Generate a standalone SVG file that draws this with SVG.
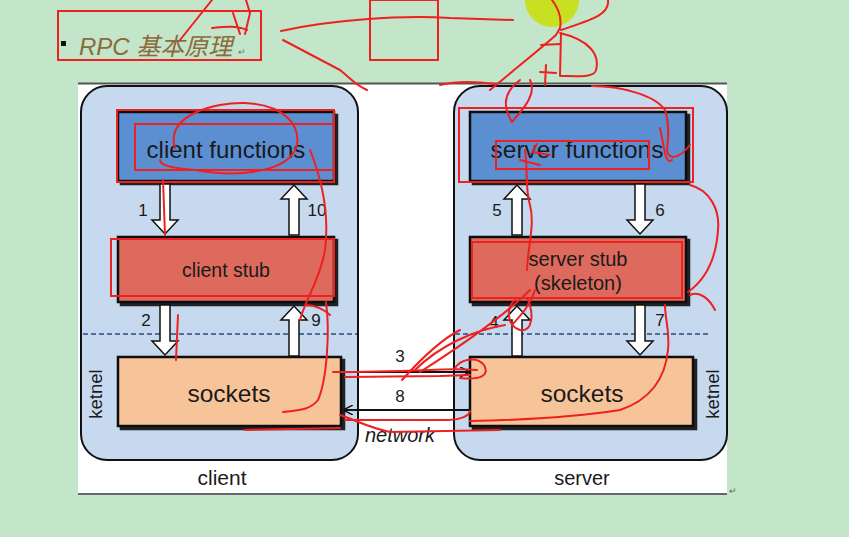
<svg xmlns="http://www.w3.org/2000/svg" width="849" height="537" viewBox="0 0 849 537">
<defs>
<style>
.t{font-family:"Liberation Sans",Arial,sans-serif;fill:#1a1a1a}
.box{stroke:#111;stroke-width:2.5}
.ar{fill:#fff;stroke:#111;stroke-width:1.5}
.red{fill:none;stroke:#ee2020;stroke-width:2;stroke-linecap:round;stroke-linejoin:round}
.redr{fill:none;stroke:#ee2020;stroke-width:2}
</style>
<filter id="sh" x="-5%" y="-5%" width="115%" height="120%"><feDropShadow dx="3" dy="3" stdDeviation="0.5" flood-color="#111" flood-opacity="0.9"/></filter>
<marker id="ah" markerWidth="10" markerHeight="10" refX="9" refY="5" orient="auto" markerUnits="userSpaceOnUse"><path d="M0,0 L10,5 L0,10" fill="none" stroke="#111" stroke-width="1.5"/></marker>
</defs>
<rect width="849" height="537" fill="#c3e5c9"/>
<circle cx="552" cy="0" r="27" fill="#c8e022"/>
<rect x="78" y="83" width="649" height="411" fill="#fff"/>
<line x1="78" y1="83.5" x2="727" y2="83.5" stroke="#555" stroke-width="2"/>
<line x1="78" y1="494" x2="727" y2="494" stroke="#666" stroke-width="2"/>
<text x="729" y="494" font-family="Liberation Sans,sans-serif" font-size="9" fill="#666">↵</text>

<g id="title">
<rect x="61" y="41" width="5" height="5" fill="#111"/>
<text x="79" y="55" font-family="Liberation Sans,'Noto Sans CJK SC',sans-serif" font-size="24" font-style="italic" fill="#8b6a3c">RPC 基本原理</text>
<text x="238" y="55" font-family="Liberation Sans,sans-serif" font-size="9" fill="#777">↵</text>
</g>

<g id="client">
<rect x="81" y="86" width="277" height="374" rx="26" fill="#c6d9ee" stroke="#111" stroke-width="2"/>
<text x="222" y="485" class="t" font-size="21" text-anchor="middle">client</text>
<text transform="translate(102,394) rotate(-90)" class="t" font-size="18.5" text-anchor="middle">ketnel</text>
</g>
<g id="server">
<rect x="454" y="86" width="273" height="374" rx="26" fill="#c6d9ee" stroke="#111" stroke-width="2"/>
<text x="582" y="485" class="t" font-size="20" text-anchor="middle">server</text>
<text transform="translate(719,394) rotate(-90)" class="t" font-size="18.5" text-anchor="middle">ketnel</text>
</g>
<g id="kernel-lines">
<line x1="83" y1="334" x2="357" y2="334" stroke="#2a4a7a" stroke-width="1.5" stroke-dasharray="5,3"/>
<line x1="455" y1="334" x2="708" y2="334" stroke="#2a4a7a" stroke-width="1.5" stroke-dasharray="5,3"/>
</g>

<g id="client-functions">
<rect x="118" y="112" width="216" height="69" fill="#5b8fd2" class="box" filter="url(#sh)"/>
<text x="226" y="158" class="t" font-size="24" text-anchor="middle">client functions</text>
</g>
<g id="client-stub">
<rect x="118" y="237" width="216" height="65" fill="#dd6b5b" class="box" filter="url(#sh)"/>
<text x="226" y="277" class="t" font-size="19.5" text-anchor="middle">client stub</text>
</g>
<g id="client-sockets">
<rect x="118" y="357" width="223" height="69" fill="#f7c49a" class="box" filter="url(#sh)"/>
<text x="229" y="402" class="t" font-size="24.5" text-anchor="middle">sockets</text>
</g>
<g id="server-functions">
<rect x="470" y="112" width="216" height="69" fill="#5b8fd2" class="box" filter="url(#sh)"/>
<text x="577" y="158" class="t" font-size="24.5" text-anchor="middle">server functions</text>
</g>
<g id="server-stub">
<rect x="470" y="237" width="216" height="65" fill="#dd6b5b" class="box" filter="url(#sh)"/>
<text x="578" y="266" class="t" font-size="20" text-anchor="middle">server stub</text>
<text x="578" y="290" class="t" font-size="20" text-anchor="middle">(skeleton)</text>
</g>
<g id="server-sockets">
<rect x="470" y="357" width="223" height="69" fill="#f7c49a" class="box" filter="url(#sh)"/>
<text x="582" y="402" class="t" font-size="24.5" text-anchor="middle">sockets</text>
</g>

<g id="connectors">
<path class="ar" d="M160,184 H170 V220 H178 L165,234 L152,220 H160 Z"/>
<path class="ar" d="M160,305 H170 V341 H178 L165,355 L152,341 H160 Z"/>
<path class="ar" d="M289,235 H299 V199 H307 L294,185 L281,199 H289 Z"/>
<path class="ar" d="M289,356 H299 V320 H307 L294,306 L281,320 H289 Z"/>
<path class="ar" d="M512,235 H522 V199 H530 L517,185 L504,199 H512 Z"/>
<path class="ar" d="M512,356 H522 V320 H530 L517,306 L504,320 H512 Z"/>
<path class="ar" d="M635,184 H645 V220 H653 L640,234 L627,220 H635 Z"/>
<path class="ar" d="M635,305 H645 V341 H653 L640,355 L627,341 H635 Z"/>
<line x1="343" y1="372" x2="469" y2="372" stroke="#111" stroke-width="2" marker-end="url(#ah)"/>
<line x1="469" y1="410" x2="344" y2="410" stroke="#111" stroke-width="2" marker-end="url(#ah)"/>
<text x="143" y="216" class="t" font-size="17" text-anchor="middle">1</text>
<text x="317" y="216" class="t" font-size="17" text-anchor="middle">10</text>
<text x="146" y="326" class="t" font-size="17" text-anchor="middle">2</text>
<text x="316" y="326" class="t" font-size="17" text-anchor="middle">9</text>
<text x="497" y="216" class="t" font-size="17" text-anchor="middle">5</text>
<text x="660" y="216" class="t" font-size="17" text-anchor="middle">6</text>
<text x="494" y="328" class="t" font-size="17" text-anchor="middle">4</text>
<text x="660" y="326" class="t" font-size="17" text-anchor="middle">7</text>
<text x="400" y="362" class="t" font-size="17" text-anchor="middle">3</text>
<text x="400" y="402" class="t" font-size="17" text-anchor="middle">8</text>
<text x="400" y="442" class="t" font-size="20" font-style="italic" text-anchor="middle">network</text>
</g>

<g id="annotations">
<rect class="redr" x="58" y="11" width="203" height="49"/>
<rect class="redr" x="370" y="0" width="68" height="60"/>
<rect class="redr" x="117" y="110" width="217" height="72"/>
<rect class="redr" x="135" y="124" width="199" height="46"/>
<rect class="redr" x="111" y="239" width="223" height="57"/>
<rect class="redr" x="459" y="108" width="234" height="74"/>
<rect class="redr" x="496" y="141" width="153" height="28"/>
<rect class="redr" x="472" y="242" width="210" height="56"/>
<path class="red" d="M180,40 L212,0 M233,13 L240,34 M246,0 L250,13 L245,34 M247,30 C236,25 222,27 212,28"/>
<path class="red" d="M281,31 C330,20 400,15 450,18 L513,20"/>
<path class="red" d="M283,40 L340,70 C350,78 355,85 367,90"/>
<path class="red" d="M490,90 C520,65 545,45 556,35 L560,28 C562,18 558,8 552,0 M561,30 C590,20 610,15 608,0 M560,33 C590,40 600,55 596,70 C595,78 575,76 560,76 L561,33"/>
<path class="red" d="M541,45 L560,44 M546,65 L545,85 M540,72 L556,73"/>
<path class="red" d="M520,80 C500,95 505,110 512,122 C520,112 538,95 530,80 M440,85 C460,80 480,82 495,84"/>
<path class="red" d="M592,86 C620,86 655,95 665,110 C670,125 668,140 667,150 C668,160 678,160 690,145 M660,128 C665,150 665,165 672,160"/>
<path class="red" d="M525,150 C528,170 525,190 530,205 C535,225 528,245 527,270 M520,160 L540,165 M537,144 L532,152 L550,155"/>
<path class="red" d="M690,185 C710,190 720,210 718,230 C716,260 705,280 688,292 M690,295 C700,290 710,300 715,310"/>
<path class="red" d="M175,148 C165,115 215,102 245,103 C285,105 300,125 297,145 C290,172 240,178 195,170 C170,168 160,165 160,160"/>
<path class="red" d="M310,150 C320,175 330,210 325,250 C320,280 305,300 300,320 M306,305 C315,305 325,310 330,315"/>
<path class="red" d="M163,180 L165,235 M178,315 L176,360"/>
<path class="red" d="M326,302 C330,330 327,380 318,400 C310,410 300,410 283,412"/>
<path class="red" d="M333,372 C360,372 400,371 430,370 C450,369 460,369 477,370"/>
<path class="red" d="M345,377 L440,376 L470,375"/>
<path class="red" d="M402,380 C420,360 440,340 460,330 M415,370 C440,345 475,330 505,325 M420,372 C470,340 510,310 530,290 M460,378 C480,380 490,376 484,365 C476,355 460,360 455,368"/>
<path class="red" d="M515,300 C507,305 505,325 520,330 C532,332 535,315 527,298"/>
<path class="red" d="M512,325 C520,316 530,306 535,290"/>
<path class="red" d="M345,420 L445,420 C460,421 470,415 470,411 M340,415 C355,420 370,428 390,432 L500,430"/>
<path class="red" d="M470,421 C520,420 570,418 620,410 C650,400 665,380 668,350 C670,330 665,320 665,305"/>
<path class="red" d="M245,430 L340,428"/>
</g>
</svg>
